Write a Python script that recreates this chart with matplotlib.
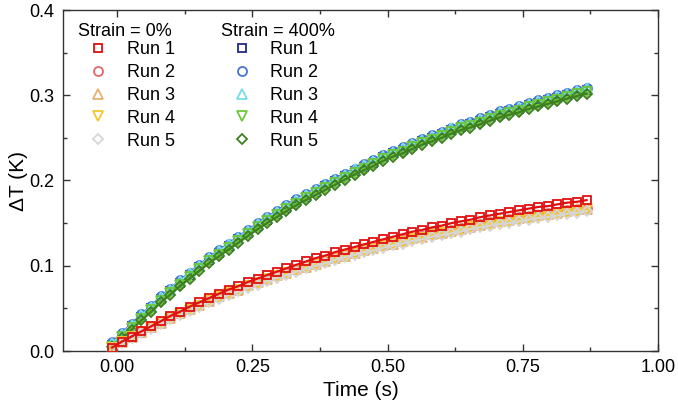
import matplotlib
matplotlib.use("Agg")
import matplotlib.pyplot as plt
from matplotlib.ticker import MultipleLocator, FormatStrFormatter

plt.rcParams['font.family'] = ['Liberation Sans', 'DejaVu Sans']

# Time axis (s)
time = [-0.009, 0.009, 0.027, 0.045, 0.063, 0.081, 0.098, 0.116, 0.134, 0.152,
        0.170, 0.188, 0.206, 0.224, 0.242, 0.260, 0.277, 0.295, 0.313, 0.331,
        0.349, 0.367, 0.385, 0.403, 0.421, 0.439, 0.456, 0.474, 0.492, 0.510,
        0.528, 0.546, 0.564, 0.582, 0.600, 0.618, 0.635, 0.653, 0.671, 0.689,
        0.707, 0.725, 0.743, 0.761, 0.779, 0.797, 0.814, 0.832, 0.850, 0.868]

# Strain = 0 %
s0_run1 = [0.004, 0.011, 0.017, 0.023, 0.029, 0.035, 0.041, 0.046, 0.052, 0.057,
           0.062, 0.067, 0.072, 0.076, 0.081, 0.085, 0.089, 0.093, 0.097, 0.101,
           0.105, 0.109, 0.112, 0.116, 0.119, 0.122, 0.125, 0.128, 0.131, 0.134,
           0.137, 0.140, 0.142, 0.145, 0.147, 0.150, 0.152, 0.154, 0.157, 0.159,
           0.161, 0.163, 0.165, 0.167, 0.169, 0.170, 0.172, 0.174, 0.175, 0.177]
s0_run2 = [0.004, 0.010, 0.016, 0.022, 0.028, 0.033, 0.039, 0.044, 0.049, 0.054,
           0.059, 0.064, 0.068, 0.072, 0.077, 0.081, 0.085, 0.089, 0.092, 0.096,
           0.100, 0.103, 0.106, 0.110, 0.113, 0.116, 0.119, 0.122, 0.125, 0.127,
           0.130, 0.133, 0.135, 0.138, 0.140, 0.142, 0.144, 0.147, 0.149, 0.151,
           0.153, 0.155, 0.157, 0.158, 0.160, 0.162, 0.163, 0.165, 0.167, 0.168]
s0_run3 = [0.004, 0.010, 0.016, 0.022, 0.028, 0.033, 0.039, 0.044, 0.049, 0.054,
           0.059, 0.064, 0.068, 0.072, 0.077, 0.081, 0.085, 0.089, 0.092, 0.096,
           0.099, 0.102, 0.105, 0.109, 0.112, 0.115, 0.118, 0.121, 0.124, 0.126,
           0.129, 0.132, 0.134, 0.137, 0.139, 0.141, 0.143, 0.146, 0.148, 0.150,
           0.152, 0.154, 0.156, 0.157, 0.159, 0.161, 0.162, 0.164, 0.166, 0.167]
s0_run4 = [0.004, 0.010, 0.016, 0.022, 0.027, 0.033, 0.038, 0.043, 0.048, 0.053,
           0.059, 0.063, 0.068, 0.072, 0.076, 0.080, 0.084, 0.088, 0.091, 0.095,
           0.099, 0.102, 0.105, 0.109, 0.112, 0.115, 0.118, 0.120, 0.123, 0.126,
           0.128, 0.131, 0.133, 0.136, 0.138, 0.140, 0.142, 0.145, 0.147, 0.149,
           0.151, 0.152, 0.154, 0.156, 0.158, 0.159, 0.161, 0.163, 0.164, 0.166]
s0_run5 = [0.003, 0.009, 0.015, 0.021, 0.026, 0.032, 0.037, 0.042, 0.047, 0.052,
           0.057, 0.061, 0.066, 0.070, 0.074, 0.078, 0.082, 0.086, 0.089, 0.093,
           0.097, 0.100, 0.103, 0.107, 0.110, 0.113, 0.116, 0.118, 0.121, 0.124,
           0.126, 0.129, 0.131, 0.134, 0.136, 0.138, 0.140, 0.143, 0.145, 0.147,
           0.149, 0.150, 0.152, 0.154, 0.156, 0.157, 0.159, 0.161, 0.162, 0.164]

# Strain = 400 %
s400_run1 = [0.007, 0.018, 0.029, 0.040, 0.050, 0.061, 0.070, 0.080, 0.089, 0.098,
             0.107, 0.115, 0.123, 0.131, 0.139, 0.147, 0.154, 0.161, 0.168, 0.175,
             0.181, 0.187, 0.193, 0.199, 0.205, 0.211, 0.216, 0.221, 0.227, 0.232,
             0.236, 0.241, 0.246, 0.250, 0.254, 0.259, 0.263, 0.266, 0.270, 0.274,
             0.278, 0.281, 0.284, 0.288, 0.291, 0.294, 0.297, 0.300, 0.303, 0.306]
s400_run2 = [0.010, 0.021, 0.032, 0.043, 0.053, 0.064, 0.073, 0.083, 0.092, 0.101,
             0.110, 0.118, 0.126, 0.134, 0.142, 0.150, 0.157, 0.164, 0.171, 0.178,
             0.184, 0.190, 0.196, 0.202, 0.208, 0.214, 0.219, 0.224, 0.230, 0.235,
             0.239, 0.244, 0.249, 0.253, 0.257, 0.262, 0.266, 0.269, 0.273, 0.277,
             0.281, 0.284, 0.287, 0.291, 0.294, 0.297, 0.300, 0.303, 0.306, 0.309]
s400_run3 = [0.009, 0.020, 0.031, 0.042, 0.052, 0.063, 0.072, 0.082, 0.091, 0.100,
             0.109, 0.117, 0.125, 0.133, 0.141, 0.149, 0.156, 0.163, 0.170, 0.177,
             0.183, 0.189, 0.195, 0.201, 0.207, 0.213, 0.218, 0.223, 0.229, 0.234,
             0.238, 0.243, 0.248, 0.252, 0.256, 0.261, 0.265, 0.268, 0.272, 0.276,
             0.280, 0.283, 0.286, 0.290, 0.293, 0.296, 0.299, 0.302, 0.305, 0.308]
s400_run4 = [0.005, 0.016, 0.027, 0.038, 0.048, 0.059, 0.068, 0.078, 0.087, 0.096,
             0.105, 0.113, 0.121, 0.129, 0.137, 0.145, 0.152, 0.159, 0.166, 0.173,
             0.179, 0.185, 0.191, 0.197, 0.203, 0.209, 0.214, 0.219, 0.225, 0.230,
             0.234, 0.239, 0.244, 0.248, 0.252, 0.257, 0.261, 0.264, 0.268, 0.272,
             0.276, 0.279, 0.282, 0.286, 0.289, 0.292, 0.295, 0.298, 0.301, 0.304]
s400_run5 = [0.005, 0.015, 0.025, 0.036, 0.046, 0.057, 0.066, 0.076, 0.085, 0.094,
             0.103, 0.111, 0.119, 0.127, 0.135, 0.143, 0.150, 0.157, 0.164, 0.171,
             0.177, 0.183, 0.189, 0.195, 0.201, 0.207, 0.212, 0.217, 0.223, 0.228,
             0.232, 0.237, 0.242, 0.246, 0.250, 0.255, 0.259, 0.262, 0.266, 0.270,
             0.274, 0.277, 0.280, 0.284, 0.287, 0.290, 0.293, 0.296, 0.299, 0.302]

run_labels = ['Run 1', 'Run 2', 'Run 3', 'Run 4', 'Run 5']
markers = ['s', 'o', '^', 'v', 'D']
colors_0 = ['#e01010', '#e06a6a', '#e8b070', '#f2c830', '#d6d6d6']
colors_400 = ['#1c2a8c', '#4a72d0', '#78dce8', '#6cc83a', '#3f7f22']
msizes = [6, 6.5, 6.5, 6.5, 5.5]

series_0 = [s0_run1, s0_run2, s0_run3, s0_run4, s0_run5]
series_400 = [s400_run1, s400_run2, s400_run3, s400_run4, s400_run5]

fig = plt.figure(figsize=(6.78, 4.11), dpi=100)
ax = fig.add_axes([63 / 678, 1 - 351 / 411, (658 - 63) / 678, (351 - 10) / 411])

h400 = []
for i in range(5):
    ax.plot(time, series_400[i], '-', color=colors_400[i], lw=1.6, zorder=2 + i)
    h, = ax.plot(time, series_400[i], linestyle='none', marker=markers[i],
                 ms=msizes[i], mfc='none', mec=colors_400[i], mew=1.3, zorder=2 + i)
    h400.append(h)

h0 = [None] * 5
order_0 = [1, 2, 3, 4, 0]
for k, i in enumerate(order_0):
    ax.plot(time, series_0[i], '-', color=colors_0[i], lw=1.6, zorder=8 + k)
    h, = ax.plot(time, series_0[i], linestyle='none', marker=markers[i],
                 ms=msizes[i], mfc='none', mec=colors_0[i], mew=1.3, zorder=8 + k)
    h0[i] = h

ax.set_xlim(-0.1, 1.0)
ax.set_ylim(0.0, 0.4)
ax.xaxis.set_major_locator(MultipleLocator(0.25))
ax.xaxis.set_minor_locator(MultipleLocator(0.125))
ax.yaxis.set_major_locator(MultipleLocator(0.1))
ax.yaxis.set_minor_locator(MultipleLocator(0.05))
ax.xaxis.set_major_formatter(FormatStrFormatter('%.2f'))
ax.yaxis.set_major_formatter(FormatStrFormatter('%.1f'))
ax.tick_params(which='both', direction='in', top=True, right=True,
               color='#333333', width=1.0)
ax.tick_params(which='major', length=5, labelsize=13, pad=6)
ax.tick_params(which='minor', length=3)
for sp in ax.spines.values():
    sp.set_color('#333333')
    sp.set_linewidth(1.0)

ax.set_xlabel('Time (s)', fontsize=15, labelpad=3)
ax.set_ylabel('ΔT (K)', fontsize=15, labelpad=1)

common = dict(loc='upper left', frameon=False, fontsize=13, title_fontsize=13,
              alignment='left', handlelength=2.3, handletextpad=0.42,
              labelspacing=0.32, borderaxespad=0.3)
leg1 = ax.legend(h0, run_labels, bbox_to_anchor=(0.0034, 1.0),
                 title='Strain = 0%', **common)
leg1._legend_box.sep = 1.3
ax.add_artist(leg1)
leg2 = ax.legend(h400, run_labels, bbox_to_anchor=(0.244, 1.0),
                 title='Strain = 400%', **common)
leg2._legend_box.sep = 1.3

fig.savefig('out.png', dpi=100)
